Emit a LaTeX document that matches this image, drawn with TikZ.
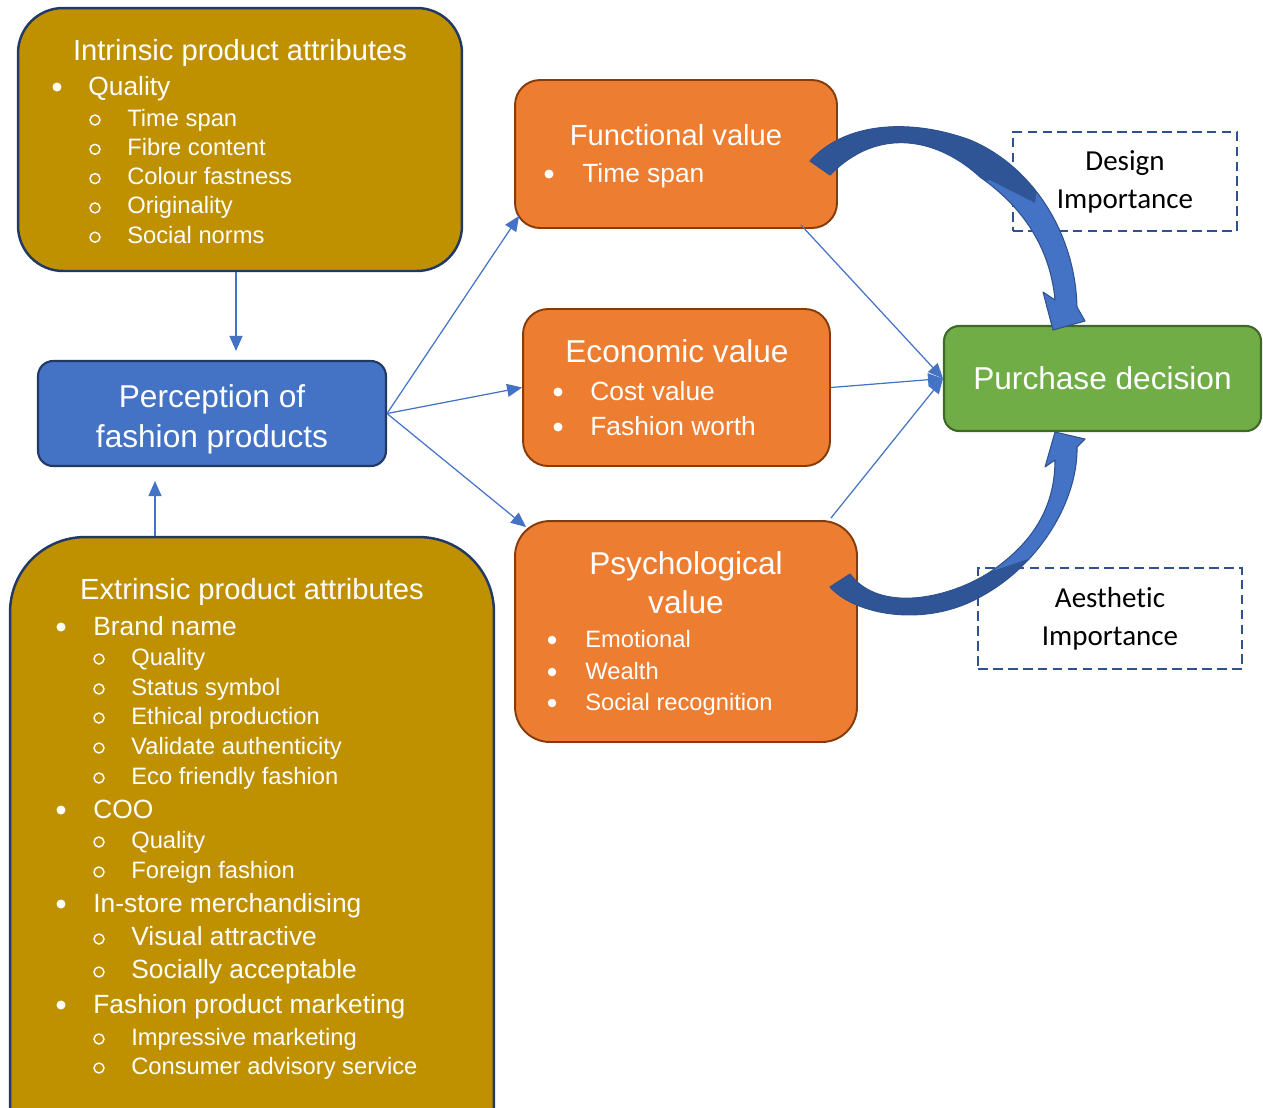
\documentclass[tikz,border=0pt]{standalone}
\usepackage{fontspec}
\setmainfont{Liberation Sans}
\newfontfamily\calibri[Ligatures=NoCommon]{Carlito}
\usetikzlibrary{arrows.meta,calc}
\definecolor{gold}{RGB}{191,144,0}
\definecolor{navy}{RGB}{34,58,99}
\definecolor{accent}{RGB}{68,114,196}
\definecolor{accentdark}{RGB}{47,85,151}
\definecolor{outline}{RGB}{47,82,143}
\definecolor{valorange}{RGB}{237,125,49}
\definecolor{rust}{RGB}{132,60,12}
\definecolor{leaf}{RGB}{112,173,71}
\definecolor{leafdark}{RGB}{65,103,42}

% block arrows (pixel grid, y pointing down)
\def\designarc{(810,161) .. controls (845,122) and (910,118) .. (970,140)
  .. controls (1030,165) and (1075,230) .. (1077,307) -- (1085,321) -- (1053,330)
  -- (1043,292) -- (1055,300) .. controls (1050,245) and (1020,205) .. (980,177)
  .. controls (940,140) and (880,124) .. (830,175) -- cycle}
\def\aestharc{(830,587) .. controls (855,615) and (925,628) .. (980,597)
  .. controls (1040,565) and (1078,500) .. (1077,447) -- (1085,439) -- (1055,432)
  -- (1045,467) -- (1055,460) .. controls (1055,510) and (1030,545) .. (990,572)
  .. controls (950,598) and (880,614) .. (850,574) -- cycle}

\begin{document}
\begin{tikzpicture}[x=0.02cm, y=-0.02cm,
  attrbox/.style={draw=navy, line width=1.4pt, fill=gold, rounded corners=#1},
  valbox/.style={draw=rust, line width=1.1pt, fill=valorange, rounded corners=#1},
  heading/.style={anchor=base, inner sep=0pt, text=white, font=\fontsize{16.6}{20}\selectfont},
  bighead/.style={heading, font=\fontsize{18}{22}\selectfont},
  lvl/.style={anchor=base west, inner sep=0pt, text=white, font=\fontsize{15}{18}\selectfont},
  sublvl/.style={lvl, font=\fontsize{13.5}{16}\selectfont},
  bul/.style={fill=white},
  ring/.style={draw=white, line width=0.8pt},
  link/.style={accent, line width=0.7pt, -{Triangle[length=0.3cm,width=0.26cm]}},
  note/.style={draw=outline, dash pattern=on 5.5pt off 3pt, line width=1.4pt,
    align=center, font=\calibri\fontsize{16.5}{21.5}\selectfont},
  blockarrow/.style={draw=outline, line width=0.6pt, line join=round},
]
\clip (0,0) rectangle (1263,1107);

% boxes
\node[attrbox=0.9cm, minimum width=8.88cm, minimum height=5.26cm] (intr) at (240,139.5) {};
\node[attrbox=1.5cm, minimum width=9.68cm, minimum height=12.86cm] (extr) at (252,858.5) {};
\node[draw=navy, line width=1.2pt, fill=accent, rounded corners=0.3cm, minimum width=6.96cm,
  minimum height=2.1cm] (perc) at (212,413.5) {};
\node[valbox=0.5cm, minimum width=6.44cm, minimum height=2.96cm] (func) at (676,154) {};
\node[valbox=0.5cm, minimum width=6.14cm, minimum height=3.14cm] (econ) at (676.5,387.5) {};
\node[valbox=0.7cm, minimum width=6.84cm, minimum height=4.42cm] (psych) at (686,631.5) {};
\node[draw=leafdark, line width=1.2pt, fill=leaf, rounded corners=0.3cm, minimum width=6.34cm,
  minimum height=2.1cm, text=white, font=\fontsize{18}{22}\selectfont]
  (purch) at (1102.5,378.5) {Purchase decision};
\node[note, minimum width=4.48cm, minimum height=1.98cm] (design) at (1125,181.5) {Design\\Importance};
\node[note, minimum width=5.28cm, minimum height=2.02cm] (aesth) at (1110,618.5) {Aesthetic\\Importance};

\node[bighead] (perc-1) at (212,407) {Perception of};
\node[bighead] (perc-2) at (212,447) {fashion products};

% intrinsic list
\node[heading] (intr-title) at (240,60) {Intrinsic product attributes};
\node[lvl] (intr-q) at (88,95) {Quality};
\fill[bul] (57,87) circle[radius=0.09cm];
\foreach \txt [count=\i] in {Time span,Fibre content,Colour fastness,Originality,Social norms}{
  \node[sublvl] (intr-\i) at (127,{126+29.3*(\i-1)}) {\txt};
  \draw[ring] (95,{120+29.3*(\i-1)}) circle[radius=0.1cm];
}

% extrinsic list
\node[heading] (extr-title) at (252,599) {Extrinsic product attributes};
\foreach \y/\txt [count=\i] in {635/Brand name,818/COO,912/In-store merchandising,1013/Fashion product marketing}{
  \node[lvl] (extr-a\i) at (93,\y) {\txt};
  \fill[bul] (61,\y-8) circle[radius=0.09cm];
}
\foreach \y/\txt [count=\i] in {665/Quality,695/Status symbol,724/Ethical production,
    754/Validate authenticity,784/Eco friendly fashion,848/Quality,878/Foreign fashion,
    1045/Impressive marketing,1074/Consumer advisory service}{
  \node[sublvl] (extr-b\i) at (131,\y) {\txt};
  \draw[ring] (99,\y-6) circle[radius=0.1cm];
}
\foreach \y/\txt [count=\i] in {945/Visual attractive,978/Socially acceptable}{
  \node[lvl] (extr-c\i) at (131,\y) {\txt};
  \draw[ring] (99,\y-6) circle[radius=0.1cm];
}

% value boxes
\node[heading] (func-title) at (676,145) {Functional value};
\node[lvl] (func-1) at (582,182) {Time span};
\fill[bul] (549,174) circle[radius=0.09cm];
\node[bighead] (econ-title) at (677,362) {Economic value};
\foreach \y/\txt [count=\i] in {400/Cost value,435/Fashion worth}{
  \node[lvl] (econ-\i) at (590,\y) {\txt};
  \fill[bul] (558,\y-8) circle[radius=0.09cm];
}
\node[bighead] (psych-title) at (686,574) {Psychological};
\node[bighead] (psych-title2) at (686,613) {value};
\foreach \y/\txt [count=\i] in {647/Emotional,679/Wealth,710/Social recognition}{
  \node[sublvl] (psych-\i) at (585,\y) {\txt};
  \fill[bul] (552,\y-7) circle[radius=0.085cm];
}

% thin connectors
\draw[link, shorten >=0.18cm] ($(intr.south)+(-4,0)$) -- ($(perc.north)+(24,0)$);
\draw[link, shorten >=0.28cm] ($(extr.north)+(-97,0)$) -- ($(perc.south)+(-57,0)$);
\draw[link] (perc.east) -- ($(func.south west)+(5,-13)$);
\draw[link] (perc.east) -- (econ.west);
\draw[link] (perc.east) -- ($(psych.north west)+(12,7)$);
\draw[link] ($(func.south east)+(-37,-4)$) -- (purch.west);
\draw[link] (econ.east) -- (purch.west);
\draw[link] ($(psych.north east)+(-27,-2)$) -- (purch.west);

% curved block arrows
\begin{scope}
  \clip \designarc;
  \fill[accent] (780,90) rectangle (1120,350);
  \fill[accentdark] (780,80) -- (1050,80) -- (1035,203) -- (990,180) -- (780,230) -- cycle;
\end{scope}
\draw[blockarrow] \designarc;
\begin{scope}
  \clip \aestharc;
  \fill[accent] (800,410) rectangle (1120,640);
  \fill[accentdark] (780,540) -- (972,578) -- (1040,555) -- (1100,660) -- (780,660) -- cycle;
\end{scope}
\draw[blockarrow] \aestharc;
\end{tikzpicture}
\end{document}
